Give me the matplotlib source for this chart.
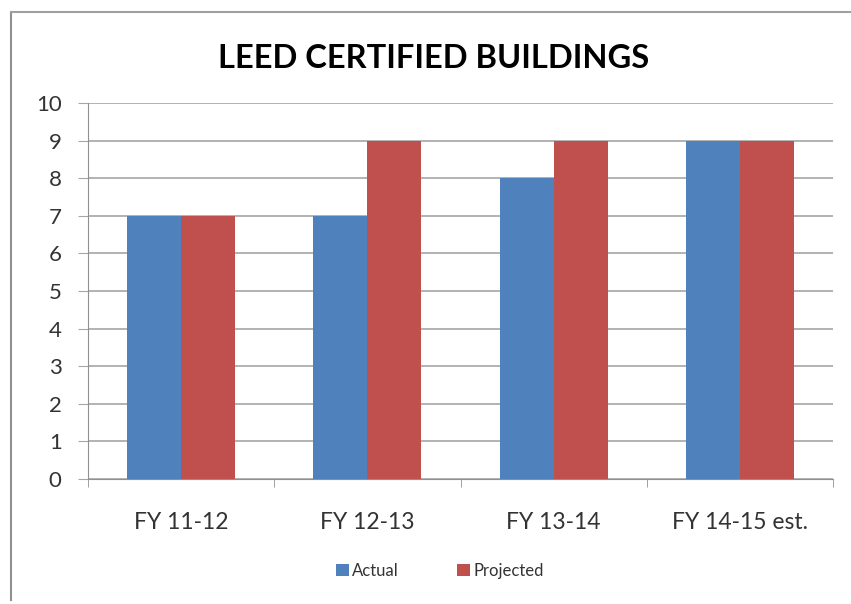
import numpy as np
import matplotlib.pyplot as plt
from matplotlib.lines import Line2D

categories = ["FY 11-12", "FY 12-13", "FY 13-14", "FY 14-15 est."]
actual = [7, 7, 8, 9]
projected = [7, 9, 9, 9]

plt.rcParams['font.family'] = ['Lato', 'DejaVu Sans']

fig = plt.figure(figsize=(8.51, 6.04), dpi=100)
W, H = 851, 604

# marco del grafico
fig.add_artist(Line2D([11 / W, 11 / W], [1 - 600 / H, 1 - 12 / H], color='#909090', lw=1.5))
fig.add_artist(Line2D([11 / W, 1], [1 - 12 / H, 1 - 12 / H], color='#a0a0a0', lw=1.5))

ax = fig.add_axes([88 / W, 1 - 479 / H, (833 - 88) / W, (479 - 103) / H])

x = np.arange(len(categories))
w = 0.29
ax.bar(x - w / 2, actual, w, color='#4f81bd', label='Actual', zorder=3)
ax.bar(x + w / 2, projected, w, color='#c0504d', label='Projected', zorder=3)

ax.set_xlim(-0.5, len(categories) - 0.5)
ax.set_ylim(0, 10)
ax.set_yticks(range(0, 11))
ax.yaxis.grid(True, color='#a6a6a6', lw=1.2, zorder=0)
ax.set_xticks(x)
ax.set_xticklabels(categories)
ax.set_xticks(np.arange(-0.5, len(categories)), minor=True)
ax.tick_params(axis='x', which='major', length=0, pad=24, labelsize=16.5, labelcolor='#333333')
ax.tick_params(axis='x', which='minor', length=6, color='#909090')
ax.tick_params(axis='y', length=7, color='#a6a6a6', labelsize=16, labelcolor='#333333', pad=12)

for s in ['top', 'right']:
    ax.spines[s].set_visible(False)
ax.spines['left'].set_color('#909090')
ax.spines['bottom'].set_color('#909090')

fig.text(434 / W, 1 - 58 / H, "LEED CERTIFIED BUILDINGS", ha='center', va='center',
         fontsize=23.5, fontweight='bold', color='black')

fig.legend(loc='center', bbox_to_anchor=(440 / W, 1 - 571 / H), ncol=2, frameon=False,
           fontsize=12, handlelength=0.75, handleheight=0.75, handletextpad=0.2,
           columnspacing=3.5, labelcolor='#333333')

fig.savefig('out.png', dpi=100)
